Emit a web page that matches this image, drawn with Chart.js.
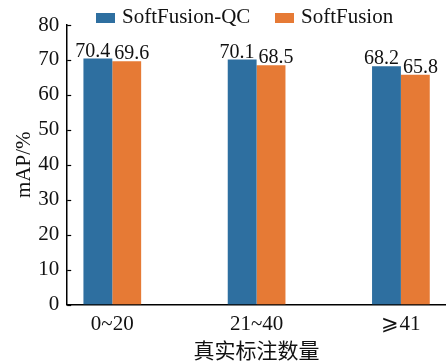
<!DOCTYPE html>
<html>
<head>
<meta charset="utf-8">
<script src="https://cdn.jsdelivr.net/npm/chart.js@4.4.1/dist/chart.umd.min.js"></script>
<style>
  html, body { margin: 0; padding: 0; background: #fff; }
  canvas { display: block; }
</style>
</head>
<body>
<canvas id="chart" width="446" height="363"></canvas>
<script>
const categories = ['0~20', '21~40', '⩾41'];
const seriesNames = ['SoftFusion-QC', 'SoftFusion'];
const qcValues = [70.4, 70.1, 68.2];
const baseValues = [69.6, 68.5, 65.8];
const colors = ['#2e6fa0', '#e67a35'];
const serif = '"Liberation Serif", "DejaVu Serif", serif';

// y ticks point into the plot
const innerTicks = {
  id: 'innerTicks',
  afterDraw(chart) {
    const { ctx, scales: { y } } = chart;
    const x0 = chart.chartArea.left;
    ctx.save();
    ctx.strokeStyle = '#000';
    ctx.lineWidth = 1.2;
    y.ticks.forEach(t => {
      const py = Math.round(y.getPixelForValue(t.value)) + 0.5;
      ctx.beginPath();
      ctx.moveTo(x0, py);
      ctx.lineTo(x0 + 4, py);
      ctx.stroke();
    });
    ctx.restore();
  }
};

// numbers above the bars, pushed apart so the pair doesn't collide
const valueLabels = {
  id: 'valueLabels',
  afterDatasetsDraw(chart) {
    const { ctx } = chart;
    ctx.save();
    ctx.font = '20px ' + serif;
    ctx.fillStyle = '#111';
    ctx.textBaseline = 'alphabetic';
    chart.data.datasets.forEach((ds, i) => {
      chart.getDatasetMeta(i).data.forEach((bar, j) => {
        const txt = ds.data[j].y.toFixed(1);
        if (i === 0) {
          ctx.textAlign = 'right';
          ctx.fillText(txt, bar.x + bar.width / 2 - 2, bar.y - 2);
        } else {
          ctx.textAlign = 'left';
          ctx.fillText(txt, bar.x - bar.width / 2 + 2, bar.y - 2);
        }
      });
    });
    ctx.restore();
  }
};

// legend sits above the plot, left of centre
const topLegend = {
  id: 'topLegend',
  afterDraw(chart) {
    const { ctx } = chart;
    const starts = [96, 275];
    ctx.save();
    ctx.font = '21px ' + serif;
    ctx.textBaseline = 'middle';
    ctx.textAlign = 'left';
    chart.data.datasets.forEach((ds, i) => {
      ctx.fillStyle = ds.backgroundColor;
      ctx.fillRect(starts[i], 13, 19, 10);
      ctx.fillStyle = '#111';
      ctx.fillText(ds.label, starts[i] + 26, 17);
    });
    ctx.restore();
  }
};

new Chart(document.getElementById('chart'), {
  type: 'bar',
  data: {
    datasets: seriesNames.map((name, k) => ({
      label: name,
      data: [qcValues, baseValues][k].map((v, i) => ({ x: i, y: v })),
      backgroundColor: colors[k],
      categoryPercentage: 0.4,
      barPercentage: 1
    }))
  },
  options: {
    responsive: false,
    animation: false,
    layout: { padding: { top: 25, left: 0, right: 0, bottom: 0 } },
    plugins: {
      legend: { display: false },
      tooltip: { enabled: false }
    },
    scales: {
      x: {
        type: 'linear',
        offset: false,
        min: -0.3125,
        max: 2.3125,
        afterBuildTicks: s => { s.ticks = categories.map((c, i) => ({ value: i })); },
        grid: { display: false, drawTicks: false },
        border: { color: '#000', width: 1.5 },
        ticks: {
          callback: v => categories[v],
          font: { family: serif, size: 21 },
          color: '#111',
          padding: 7,
          maxRotation: 0,
          autoSkip: false
        },
        title: {
          display: true,
          text: '真实标注数量',
          font: { family: '"Noto Sans CJK SC", sans-serif', size: 21 },
          color: '#111',
          padding: { top: -6, bottom: 0 }
        }
      },
      y: {
        min: 0,
        max: 80,
        grid: { display: false, drawTicks: false },
        border: { color: '#000', width: 1.5 },
        ticks: {
          stepSize: 10,
          font: { family: serif, size: 21 },
          color: '#111',
          padding: 8
        },
        title: {
          display: true,
          text: 'mAP/%',
          font: { family: serif, size: 21 },
          color: '#111',
          padding: { top: 12, bottom: -7 }
        }
      }
    }
  },
  plugins: [innerTicks, valueLabels, topLegend]
});
</script>
</body>
</html>
